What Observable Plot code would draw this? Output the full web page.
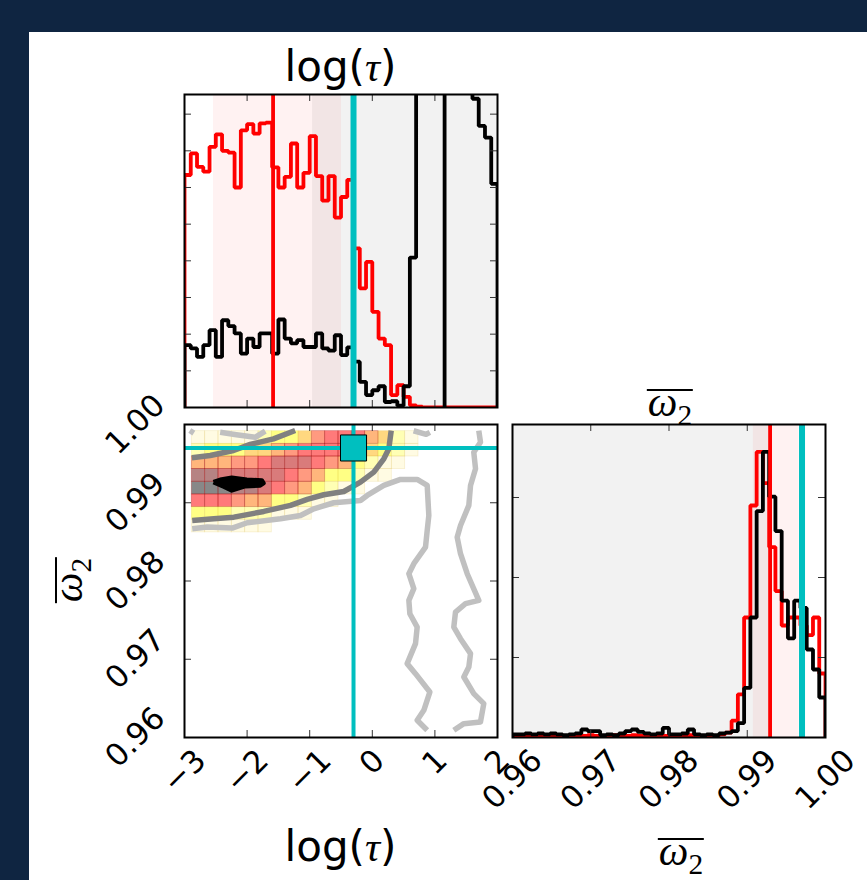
<!DOCTYPE html>
<html><head><meta charset="utf-8">
<script src="https://cdn.jsdelivr.net/npm/d3@7"></script>
<script src="https://cdn.jsdelivr.net/npm/@observablehq/plot@0.6"></script>
<style>
html,body{margin:0;padding:0;}
body{width:867px;height:880px;background:#0f2541;position:relative;overflow:hidden;font-family:"DejaVu Sans";}
#paper{position:absolute;left:29px;top:32px;right:0;bottom:0;background:#fff;}
.lab{position:absolute;width:0;height:0;}
.in{position:absolute;left:0;top:-0.846em;transform:translateX(-50%);white-space:nowrap;font:42px/1 "DejaVu Sans";color:#000;}
.m{font-family:"Liberation Serif";font-style:italic;}
.ob{display:inline-block;border-top:2.5px solid #000;line-height:0.56em;font-family:"Liberation Serif";padding:0 1px;}
.sb{font-family:"Liberation Serif";font-style:normal;font-size:0.7em;position:relative;top:9px;line-height:1;}
</style></head><body>
<div id="paper"></div>
<div class="lab" style="left:340.5px;top:82px"><div class="in">log(<span class="m">τ</span>)</div></div>
<div class="lab" style="left:340.5px;top:862px"><div class="in">log(<span class="m">τ</span>)</div></div>
<div class="lab" style="left:670px;top:417px"><div class="in"><span class="ob"><span class="m">ω</span><span class="sb">2</span></span></div></div>
<div class="lab" style="left:681px;top:866px"><div class="in"><span class="ob"><span class="m">ω</span><span class="sb">2</span></span></div></div>
<div class="lab" style="left:83px;top:580px;transform:rotate(-90deg);transform-origin:0 0"><div class="in"><span class="ob"><span class="m">ω</span><span class="sb">2</span></span></div></div>
<script>
// ---------------- data ----------------
const tauDomain = [-3, 2];
const w2Domain = [0.96, 1.0];
const tauEdges = d3.range(51).map(i => -3 + i * 0.1);
const w2Edges = d3.range(51).map(i => 0.96 + i * 0.0008);

// 1D histogram of log(tau): red and black step histograms (tick units)
const tauRed = [6.34,6.93,6.56,6.43,7.11,7.45,7.0,6.95,6.0,7.56,
  7.73,7.47,7.75,7.77,6.55,6.0,6.29,7.2,6.0,6.4,
  7.4,6.31,5.64,6.31,5.18,5.74,6.21,4.34,3.25,3.97,
  2.61,1.88,1.7,0.34,0.61,0.29,0.06,0.02,0,0,
  0,0,0,0,0,0,0,0,0,0];
const tauBlack = [1.70,1.61,1.38,1.70,2.11,1.38,2.38,2.22,2.02,1.47,
  1.88,1.65,2.02,2.02,1.47,2.40,1.88,1.75,1.84,1.65,
  1.65,2.02,1.61,1.55,1.97,1.43,1.64,1.25,0.70,0.34,
  0.47,0.58,0.15,0.17,0.05,0.58,4.09,12,16,18,
  19,18,17,15,13,10.5,8.42,7.68,7.36,6.10];

// 1D histogram of omega_2
const w2Red = [0.02,0.03,0.02,0.02,0.03,0.02,0.02,0.03,0.02,0.02,
  0.03,0.02,0.03,0.02,0.02,0.02,0.03,0.02,0.02,0.03,
  0.02,0.02,0.03,0.02,0.02,0.03,0.02,0.02,0.03,0.02,
  0.02,0.03,0.02,0.04,0.06,0.21,0.54,1.5,2.9,3.57,
  3.18,2.38,1.83,1.4,1.5,1.5,1.4,1.28,1.5,0.8];
const w2Black = [0.04,0.04,0.05,0.04,0.05,0.04,0.05,0.04,0.03,0.04,
  0.05,0.1,0.08,0.08,0.03,0.04,0.03,0.05,0.08,0.1,
  0.07,0.05,0.04,0.05,0.12,0.04,0.04,0.05,0.1,0.04,
  0.03,0.04,0.03,0.05,0.06,0.08,0.18,0.62,1.5,2.83,
  3.57,3.01,2.58,1.71,1.24,1.71,1.62,1.1,0.85,0.5];

// truths, medians, intervals
const tauTrue = -0.30, w2True = 0.997;
const tauRedMed = -1.585, tauBlackMed = 1.155, w2RedMed = 0.99292;
const tauRedCI = [-2.537, -0.492], tauBlackCI = [-0.955, 2.5];
const w2RedCI = [0.99077, 0.99662], w2BlackCI = [0.95, 0.99321];

// 2D density cells (levels 1..10), rows top -> bottom
const heatXEdges = [-2.883,-2.670,-2.457,-2.244,-2.031,-1.818,-1.605,-1.392,-1.179,-0.966,-0.753,-0.540,-0.327,-0.114,0.099,0.312,0.525,0.738];
const heatYEdges = [0.99915,0.99753,0.99591,0.99430,0.99268,0.99106,0.98944,0.98783,0.98621];
const heatLevels = [
  [1,1,1,1,1,2,3,3,4,6,7,7,7,5,4,2,1],
  [2,3,3,3,4,4,5,6,7,7,7,7,6,4,3,2,1],
  [5,5,5,6,6,7,8,8,8,7,6,5,3,2,1,1,0],
  [9,9,8,8,8,8,8,7,6,5,3,3,2,1,1,0,0],
  [10,10,10,9,9,8,7,6,5,3,2,1,1,0,0,0,0],
  [7,7,7,6,5,5,3,3,2,1,1,0,0,0,0,0,0],
  [3,3,3,2,2,2,1,1,1,0,0,0,0,0,0,0,0],
  [1,1,1,1,1,1,0,0,0,0,0,0,0,0,0,0,0]];
const heatColors = ["#fffbe3","#ffffb4","#ffff84","#ffd880","#ffb67c","#ff9a80","#ff7a7a","#d97b7b","#b68383","#888888"];

// contour lines [log tau, omega_2]
const lightMain = [[-2.877,0.98668],[-2.637,0.98689],[-2.238,0.98676],[-1.998,0.98744],[-1.466,0.98796],[-1.147,0.98838],[-0.934,0.98923],[-0.615,0.99000],[-0.189,0.99029],[-0.082,0.99093],[0.184,0.99221],[0.450,0.99298],[0.717,0.99298],[0.877,0.99221],[0.903,0.98838],[0.877,0.98646],[0.850,0.98433],[0.663,0.98221],[0.584,0.98093],[0.663,0.97902],[0.584,0.97752],[0.600,0.97582],[0.717,0.97411],[0.690,0.97199],[0.557,0.96944],[0.690,0.96816],[0.919,0.96581],[0.823,0.96347],[0.717,0.96220],[0.877,0.96092]];
const lightRight = [[1.701,0.99923],[1.728,0.99774],[1.621,0.99646],[1.649,0.99434],[1.569,0.99221],[1.542,0.98966],[1.409,0.98710],[1.356,0.98560],[1.409,0.98349],[1.516,0.98093],[1.701,0.97752],[1.489,0.97710],[1.329,0.97603],[1.302,0.97411],[1.409,0.97263],[1.569,0.97072],[1.542,0.96900],[1.462,0.96773],[1.621,0.96561],[1.781,0.96433],[1.728,0.96198],[1.462,0.96177],[1.302,0.96092]];
const lightTopA = [[-2.915,0.99923],[-2.851,0.99890]];
const lightTopB = [[-2.43,0.99900],[-2.17,0.99870],[-1.87,0.99836],[-1.71,0.99915]];
const lightTopC = [[0.66,0.99920],[0.86,0.99875],[0.92,0.99900]];
const darkTop = [[-2.883,0.99575],[-2.589,0.99604],[-2.217,0.99668],[-1.951,0.99745],[-1.578,0.99817],[-1.232,0.99923]];
const darkLow = [[-2.877,0.98774],[-2.532,0.98796],[-2.212,0.98816],[-1.733,0.98889],[-1.307,0.98966],[-1.040,0.99042],[-0.775,0.99102],[-0.455,0.99144],[-0.189,0.99263],[0.024,0.99391],[0.184,0.99562],[0.264,0.99690],[0.302,0.99923]];
const innerBlob = [[-2.537,0.99263],[-2.430,0.99294],[-2.244,0.99319],[-2.005,0.99294],[-1.765,0.99285],[-1.738,0.99250],[-1.791,0.99221],[-2.030,0.99212],[-2.244,0.99157],[-2.377,0.99208],[-2.537,0.99263]];

// ticks
const tauTicks = [-3,-2,-1,0,1,2];
const tauTickLabels = ["−3","−2","−1","0","1","2"];
const w2Ticks = [0.96,0.97,0.98,0.99,1.00];
const w2TickLabels = ["0.96","0.97","0.98","0.99","1.00"];
const histTauYTicks = [1,2,3,4,5,6,7,8];
const histW2YTicks = [1,2,3];

// ---------------- helpers ----------------
const CYAN = "#00bfbf";
const S = 313, TL = 7, FS = 31;
const adv = c => ({"−":0.838, ".":0.318})[c] ?? 0.636;
const textW = s => [...s].reduce((a, c) => a + adv(c), 0);
const halfExt = s => (textW(s) + 1.164) * FS / (2 * Math.SQRT2);

function stepPts(edges, vals) {
  const p = [{x: edges[0], y: 0}];
  vals.forEach((v, i) => p.push({x: edges[i], y: v}));
  p.push({x: edges[vals.length], y: vals[vals.length - 1]});
  p.push({x: edges[vals.length], y: 0});
  return p;
}
function tickMarks(xt, yt) {
  const o = {stroke: "#333", strokeWidth: 1};
  return [
    Plot.tickX(xt, {x: d => d, ...o, insetTop: S - TL}),
    Plot.tickX(xt, {x: d => d, ...o, insetBottom: S - TL}),
    Plot.tickY(yt, {y: d => d, ...o, insetRight: S - TL}),
    Plot.tickY(yt, {y: d => d, ...o, insetLeft: S - TL})
  ];
}
const lblStyle = {rotate: -45, textAnchor: "middle", lineAnchor: "middle", fontSize: FS, fontFamily: "DejaVu Sans", fill: "black"};
function xTickLabels(vals, labs, pad) {
  return vals.map((v, i) => Plot.text([{v, s: labs[i]}], {x: "v", text: "s", frameAnchor: "bottom", dy: pad + halfExt(labs[i]), ...lblStyle}));
}
function yTickLabels(vals, labs, pad) {
  return vals.map((v, i) => Plot.text([{v, s: labs[i]}], {y: "v", text: "s", frameAnchor: "left", dx: -(pad + halfExt(labs[i])), ...lblStyle}));
}
function panel(xdom, ydom, marks, extra = {}) {
  return Plot.plot({
    width: S, height: S, margin: 0,
    style: "background:transparent;overflow:visible;",
    x: {domain: xdom, axis: null},
    y: {domain: ydom, axis: null},
    ...extra, marks
  });
}
function place(svg, left, top) {
  svg.style.position = "absolute";
  svg.style.left = left + "px";
  svg.style.top = top + "px";
  document.body.appendChild(svg);
}
const line = (data, stroke, w, extra = {}) =>
  Plot.line(data, {x: d => d[0], y: d => d[1], stroke, strokeWidth: w, clip: true, strokeLinejoin: "round", strokeLinecap: "butt", ...extra});
const HW = 3.8;

// ---------------- top histogram: log(tau) ----------------
const topHist = panel(tauDomain, [0, 8.536], [
  Plot.rect([{a: tauBlackCI[0], b: tauBlackCI[1]}], {x1: "a", x2: "b", fill: "black", fillOpacity: 0.05, clip: true}),
  Plot.rect([{a: tauRedCI[0], b: tauRedCI[1]}], {x1: "a", x2: "b", fill: "red", fillOpacity: 0.05, clip: true}),
  Plot.line(stepPts(tauEdges, tauRed), {x: "x", y: "y", curve: "step-after", stroke: "red", strokeWidth: HW, strokeLinejoin: "miter", clip: true}),
  Plot.line(stepPts(tauEdges, tauBlack), {x: "x", y: "y", curve: "step-after", stroke: "black", strokeWidth: HW, strokeLinejoin: "miter", clip: true}),
  Plot.ruleX([tauBlackMed], {stroke: "black", strokeWidth: 3.8}),
  Plot.ruleX([tauRedMed], {stroke: "red", strokeWidth: 3.8}),
  Plot.ruleX([tauTrue], {stroke: CYAN, strokeWidth: 6}),
  ...tickMarks([-2,-1,0,1], histTauYTicks),
  Plot.frame({stroke: "black", strokeWidth: 2})
]);
place(topHist, 184, 94);

// ---------------- 2D panel ----------------
const cells = [];
heatLevels.forEach((row, r) => row.forEach((v, c) => {
  if (v > 0) cells.push({x1: heatXEdges[c], x2: heatXEdges[c + 1], y1: heatYEdges[r + 1], y2: heatYEdges[r], v});
}));
const twoD = panel(tauDomain, w2Domain, [
  Plot.rect(cells, {x1: "x1", x2: "x2", y1: "y1", y2: "y2", fill: "v"}),
  Plot.rect(cells.filter(d => d.v >= 5), {x1: "x1", x2: "x2", y1: "y1", y2: "y2", fill: "none", stroke: "#a00000", strokeOpacity: 0.35, strokeWidth: 0.8}),
  Plot.rect(cells.filter(d => d.v < 5), {x1: "x1", x2: "x2", y1: "y1", y2: "y2", fill: "none", stroke: "#c8a000", strokeOpacity: 0.15, strokeWidth: 0.8}),
  line(lightMain, "#c0c0c0", 5.5),
  line(lightRight, "#c0c0c0", 5.5),
  line(lightTopA, "#c0c0c0", 5.5),
  line(lightTopB, "#c0c0c0", 5.5),
  line(lightTopC, "#c0c0c0", 5.5),
  line(darkTop, "#808080", 5.5),
  line(darkLow, "#808080", 5.5),
  line(innerBlob, "black", 4.5, {fill: "black"}),
  Plot.ruleX([tauTrue], {stroke: CYAN, strokeWidth: 4}),
  Plot.ruleY([w2True], {stroke: CYAN, strokeWidth: 4}),
  Plot.dot([[tauTrue, w2True]], {x: d => d[0], y: d => d[1], symbol: "square", r: 14.7, fill: CYAN, stroke: "black", strokeWidth: 1}),
  ...tickMarks([-2,-1,0,1], [0.97,0.98,0.99]),
  Plot.frame({stroke: "black", strokeWidth: 2}),
  ...xTickLabels(tauTicks, tauTickLabels, 5),
  ...yTickLabels(w2Ticks, w2TickLabels, 12)
], {color: {type: "ordinal", domain: [1,2,3,4,5,6,7,8,9,10], range: heatColors}});
place(twoD, 184, 424);

// ---------------- right histogram: omega_2 ----------------
const rightHist = panel(w2Domain, [0, 3.9125], [
  Plot.rect([{a: w2BlackCI[0], b: w2BlackCI[1]}], {x1: "a", x2: "b", fill: "black", fillOpacity: 0.05, clip: true}),
  Plot.rect([{a: w2RedCI[0], b: w2RedCI[1]}], {x1: "a", x2: "b", fill: "red", fillOpacity: 0.05, clip: true}),
  Plot.line(stepPts(w2Edges, w2Red), {x: "x", y: "y", curve: "step-after", stroke: "red", strokeWidth: HW, strokeLinejoin: "miter", clip: true}),
  Plot.line(stepPts(w2Edges, w2Black), {x: "x", y: "y", curve: "step-after", stroke: "black", strokeWidth: HW, strokeLinejoin: "miter", clip: true}),
  Plot.ruleX([w2RedMed], {stroke: "red", strokeWidth: 3.8}),
  Plot.ruleX([w2True], {stroke: CYAN, strokeWidth: 6}),
  ...tickMarks([0.97,0.98,0.99], histW2YTicks),
  Plot.frame({stroke: "black", strokeWidth: 2}),
  ...xTickLabels(w2Ticks, w2TickLabels, 5)
]);
place(rightHist, 512, 424);
</script>
</body></html>
